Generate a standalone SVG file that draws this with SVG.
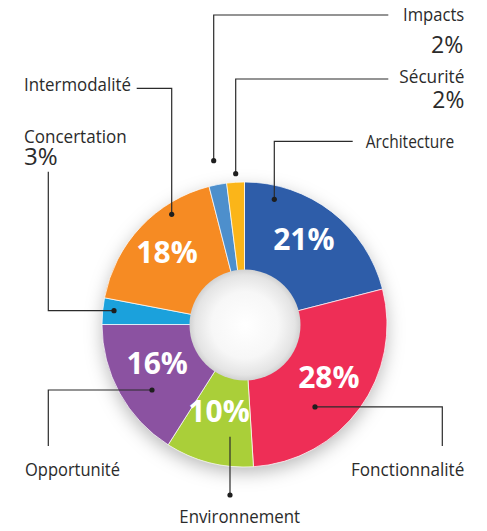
<svg xmlns="http://www.w3.org/2000/svg" width="487" height="531" viewBox="0 0 487 531">
<defs>
<style>
.lbl{font-family:"Open Sans","Liberation Sans",sans-serif;font-size:18px;fill:#2b2b2b}
.pct{font-family:"Open Sans","Liberation Sans",sans-serif;font-size:24px;fill:#2b2b2b}
.big{font-family:"Open Sans","Liberation Sans",sans-serif;font-size:30px;font-weight:bold;fill:#fff;text-anchor:middle}
.seg{stroke:#fff;stroke-width:0.7}
.ln{fill:none;stroke:#2b2b2b;stroke-width:1.2}
.dot{fill:#1e1e1e}
</style>
<filter id="sh" x="-30%" y="-30%" width="160%" height="160%">
<feDropShadow dx="0" dy="6" stdDeviation="9" flood-color="#000" flood-opacity="0.28"/>
</filter>
<radialGradient id="hole" cx="0.5" cy="0.5" r="0.5">
<stop offset="0" stop-color="#ffffff"/>
<stop offset="0.6" stop-color="#f7f7f7"/>
<stop offset="0.9" stop-color="#e4e4e4"/>
<stop offset="1" stop-color="#d2d2d2"/>
</radialGradient>
</defs>
<rect width="487" height="531" fill="#fff"/>
<circle cx="244.5" cy="324.5" r="142" fill="#fff" filter="url(#sh)"/>
<g id="donut">
<g id="architecture"><path class="seg" fill="#2E5DA9" d="M244.5 324.5 L244.5 182 A142.5 142.5 0 0 1 382.52 289.06 Z"/><text class="big" x="303.8" y="250">21%</text></g>
<g id="fonctionnalite"><path class="seg" fill="#EE2E56" d="M244.5 324.5 L382.52 289.06 A142.5 142.5 0 0 1 253.45 466.72 Z"/></g>
<g id="environnement"><path class="seg" fill="#AACF39" d="M244.5 324.5 L253.45 466.72 A142.5 142.5 0 0 1 168.14 444.82 Z"/></g>
<g id="opportunite"><path class="seg" fill="#8B52A1" d="M244.5 324.5 L168.14 444.82 A142.5 142.5 0 0 1 102 324.5 Z"/></g>
<g id="concertation"><path class="seg" fill="#1BA1DC" d="M244.5 324.5 L102 324.5 A142.5 142.5 0 0 1 104.52 297.8 Z"/></g>
<g id="intermodalite"><path class="seg" fill="#F68B23" d="M244.5 324.5 L104.52 297.8 A142.5 142.5 0 0 1 209.06 186.48 Z"/></g>
<g id="impacts"><path class="seg" fill="#4D8FCC" d="M244.5 324.5 L209.06 186.48 A142.5 142.5 0 0 1 226.64 183.12 Z"/></g>
<g id="securite"><path class="seg" fill="#FBB519" d="M244.5 324.5 L226.64 183.12 A142.5 142.5 0 0 1 244.5 182 Z"/></g>
<circle id="hole-disc" cx="245" cy="325" r="55.5" fill="url(#hole)"/>
<g id="values">
<text class="big" x="167" y="262.7">18%</text>
<text class="big" x="157.2" y="374">16%</text>
<text class="big" x="219" y="422.3">10%</text>
<text class="big" x="328.8" y="387.7">28%</text>
</g>
</g>
<g id="connectors">
<polyline class="ln" points="388.3,15 213.7,15 213.7,160.7"/><circle class="dot" cx="213.7" cy="160.7" r="2.6"/>
<polyline class="ln" points="388.3,79 235.7,79 235.7,173.7"/><circle class="dot" cx="235.7" cy="173.7" r="2.6"/>
<polyline class="ln" points="352.7,141.3 274.3,141.3 274.3,199.3"/><circle class="dot" cx="274.3" cy="199.3" r="2.6"/>
<polyline class="ln" points="136.7,88.3 171.7,88.3 171.7,214.3"/><circle class="dot" cx="171.7" cy="214.3" r="2.6"/>
<polyline class="ln" points="48.3,171.7 48.3,310.7 114,310.7"/><circle class="dot" cx="114" cy="310.7" r="2.6"/>
<polyline class="ln" points="48.3,446 48.3,390 152,390"/><circle class="dot" cx="152" cy="390" r="2.6"/>
<polyline class="ln" points="230,436.7 230,495"/><circle class="dot" cx="230" cy="495" r="2.6"/>
<polyline class="ln" points="315,406.9 442.3,406.9 442.3,446"/><circle class="dot" cx="315" cy="406.9" r="2.6"/>
</g>
<g id="labels">
<g id="lbl-impacts"><text class="lbl" x="403" y="20.7" textLength="61.3" lengthAdjust="spacingAndGlyphs">Impacts</text><text class="pct" x="431" y="53" textLength="32.3" lengthAdjust="spacingAndGlyphs">2%</text></g>
<g id="lbl-securite"><text class="lbl" x="399.3" y="83.3" textLength="65" lengthAdjust="spacingAndGlyphs">Sécurité</text><text class="pct" x="432.3" y="108.3" textLength="32" lengthAdjust="spacingAndGlyphs">2%</text></g>
<g id="lbl-architecture"><text class="lbl" x="365.7" y="148" textLength="88.6" lengthAdjust="spacingAndGlyphs">Architecture</text></g>
<g id="lbl-intermodalite"><text class="lbl" x="24" y="91.3" textLength="107" lengthAdjust="spacingAndGlyphs">Intermodalité</text></g>
<g id="lbl-concertation"><text class="lbl" x="24" y="143" textLength="102.7" lengthAdjust="spacingAndGlyphs">Concertation</text><text class="pct" x="24" y="165" textLength="33.7" lengthAdjust="spacingAndGlyphs">3%</text></g>
<g id="lbl-opportunite"><text class="lbl" x="25" y="476" textLength="95" lengthAdjust="spacingAndGlyphs">Opportunité</text></g>
<g id="lbl-environnement"><text class="lbl" x="179.3" y="523.3" textLength="120.7" lengthAdjust="spacingAndGlyphs">Environnement</text></g>
<g id="lbl-fonctionnalite"><text class="lbl" x="351" y="476" textLength="113.3" lengthAdjust="spacingAndGlyphs">Fonctionnalité</text></g>
</g>
</svg>
